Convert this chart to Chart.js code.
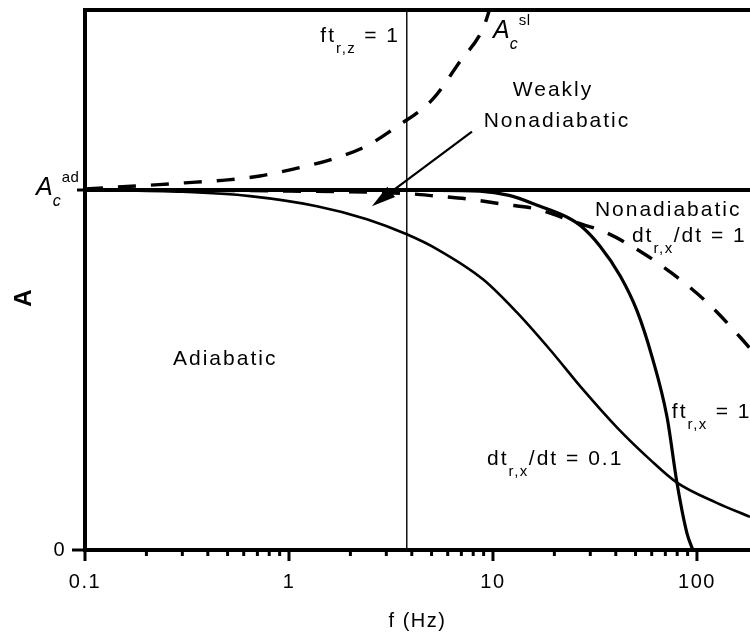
<!DOCTYPE html>
<html>
<head>
<meta charset="utf-8">
<title>Critical amplitude versus frequency</title>
<script src="https://cdn.jsdelivr.net/npm/chart.js@4.4.1/dist/chart.umd.min.js"></script>
<style>
  html, body { margin: 0; padding: 0; background: #fff; }
  canvas { display: block; }
</style>
</head>
<body>
<canvas id="chart" width="750" height="637"></canvas>
<script>
// ---- frequency axis (Hz, logarithmic) ----
const xMajorTicks = [0.1, 1, 10, 100];
const xMinorSteps = [2, 3, 4, 5, 6, 7, 8, 9];
const xLimits = [0.1, 182];

// ---- amplitude axis ----
const yTickValues = [0, 1];
const yTickLabels = ['0', ''];
const yLimits = [0, 1.5];

// adiabatic critical amplitude A_c^ad
const adFreq = [0.1, 182];
const adAmp  = [1, 1];

// A_c^sl
const slFreq = [0.1, 0.23, 0.35, 0.5, 0.72, 1.05, 1.59, 2.36, 3.42, 5.08, 6.89, 8.93, 9.66];
const slAmp  = [1.003, 1.015, 1.022, 1.028, 1.039, 1.058, 1.084, 1.120, 1.178, 1.253, 1.357, 1.448, 1.504];

// dt_r,x/dt = 1
const dt1Freq = [0.1, 1, 3.78, 5.31, 7.53, 11.1, 16.4, 25.2, 35.4, 52.6, 75.3, 112, 163, 182];
const dt1Amp  = [1.0, 0.997, 0.99, 0.983, 0.975, 0.961, 0.947, 0.911, 0.883, 0.830, 0.769, 0.688, 0.591, 0.56];

// ft_r,x = 1
const ftxFreq = [0.1, 1, 5, 8.6, 12, 17, 23, 27, 33.5, 42, 50.8, 60, 71.3, 79.8, 89.3, 95.5];
const ftxAmp  = [1.0, 1.0, 0.999, 0.997, 0.985, 0.955, 0.925, 0.900, 0.844, 0.762, 0.665, 0.54, 0.370, 0.187, 0.047, 0];

// dt_r,x/dt = 0.1
const dt01Freq = [0.1, 0.3, 0.644, 1.37, 2.41, 3.78, 5.31, 8.93, 13.1, 19.0, 27.6, 40.6, 58.9, 79.8, 125, 182];
const dt01Amp  = [1.0, 0.995, 0.983, 0.955, 0.919, 0.877, 0.836, 0.752, 0.660, 0.557, 0.446, 0.340, 0.251, 0.187, 0.131, 0.092];

// ft_r,z = 1 marker line
const ftzFreq = [3.78, 3.78];
const ftzAmp  = [0, 1.5];

// ---- drawing setup ----
const FONT = "'Liberation Sans', Arial, Helvetica, sans-serif";
const SPACING = '2px';

const pts = (xs, ys) => xs.map((x, i) => ({ x, y: ys[i] }));

const xTickValues = [];
xMajorTicks.forEach((m, i) => {
  xTickValues.push(m);
  if (i < xMajorTicks.length - 1) xMinorSteps.forEach(s => xTickValues.push(+(m * s).toPrecision(3)));
});

// text styles for labels with sub/superscripts
const STYLES = {
  n:   { font: `21px ${FONT}`, dy: 0, sp: SPACING },
  sub: { font: `15px ${FONT}`, dy: 11, sp: '1.5px' },
  A:   { font: `italic 25px ${FONT}`, dy: 0, sp: '0px' },
  c:   { font: `italic 16px ${FONT}`, dy: 11, sp: '1px' },
  sup: { font: `15px ${FONT}`, dy: -13, sp: '0.5px' }
};

// region and curve annotations, anchored in (frequency, amplitude)
const notes = [
  { f: 0.27, a: 0.515, align: 'left',   parts: [['Adiabatic']] },
  { f: 19.7, a: 1.262, align: 'center', parts: [['Weakly']] },
  { f: 20.6, a: 1.175, align: 'center', parts: [['Nonadiabatic']] },
  { f: 31.6, a: 0.928, align: 'left',   parts: [['Nonadiabatic']] },
  { f: 48.0, a: 0.855, align: 'left',   parts: [['dt'], ['r,x', 'sub'], ['/dt = 1']] },
  { f: 75.3, a: 0.368, align: 'left',   parts: [['ft'], ['r,x', 'sub'], [' = 1']] },
  { f: 9.35, a: 0.237, align: 'left',   parts: [['dt'], ['r,x', 'sub'], ['/dt = 0.1']] },
  { f: 3.50, a: 1.412, align: 'right',  parts: [['ft'], ['r,z', 'sub'], [' = 1']] },
  { f: 10.0, a: 1.421, align: 'left',   parts: [['A', 'A'], ['c', 'c'], ['sl', 'sup']] }
];

// arrow pointing into the weakly nonadiabatic band
const arrowFrom = { f: 7.89, a: 1.162 };
const arrowTo   = { f: 2.55, a: 0.955 };

function drawRich(ctx, x, y, parts, align) {
  let total = 0;
  const widths = parts.map(([t, s]) => {
    const st = STYLES[s || 'n'];
    ctx.font = st.font;
    ctx.letterSpacing = st.sp;
    const w = ctx.measureText(t).width;
    total += w;
    return w;
  });
  let cx = align === 'center' ? x - total / 2 : align === 'right' ? x - total : x;
  ctx.textAlign = 'left';
  ctx.textBaseline = 'alphabetic';
  parts.forEach(([t, s], i) => {
    const st = STYLES[s || 'n'];
    ctx.font = st.font;
    ctx.letterSpacing = st.sp;
    ctx.fillText(t, cx, y + st.dy);
    cx += widths[i];
  });
}

const decorations = {
  id: 'decorations',
  beforeDraw(chart) {
    chart.ctx.letterSpacing = '1.5px';
  },
  afterDraw(chart) {
    const { ctx, chartArea: area, scales: { x, y } } = chart;
    ctx.save();
    ctx.strokeStyle = '#000';
    ctx.fillStyle = '#000';

    // frame top edge
    ctx.lineWidth = 4;
    ctx.beginPath();
    ctx.moveTo(area.left - 2, area.top);
    ctx.lineTo(area.right, area.top);
    ctx.stroke();

    // x tick marks: long for decades, short for minor steps
    ctx.lineWidth = 3;
    x.ticks.forEach(t => {
      const px = x.getPixelForValue(t.value);
      const len = xMajorTicks.includes(t.value) ? 11 : 6;
      ctx.beginPath();
      ctx.moveTo(px, area.bottom);
      ctx.lineTo(px, area.bottom + len);
      ctx.stroke();
    });
    // y tick marks
    y.ticks.forEach(t => {
      const py = y.getPixelForValue(t.value);
      const len = t.value === 0 ? 13 : 8;
      ctx.beginPath();
      ctx.moveTo(area.left, py);
      ctx.lineTo(area.left - len, py);
      ctx.stroke();
    });

    // A_c^ad label at the adiabatic tick
    drawRich(ctx, 36, y.getPixelForValue(1) + 5, [['A', 'A'], ['c', 'c'], ['ad', 'sup']], 'left');

    // y axis title
    ctx.save();
    ctx.translate(24, y.getPixelForValue(0.70));
    ctx.rotate(-Math.PI / 2);
    ctx.letterSpacing = '0px';
    ctx.font = `bold 24px ${FONT}`;
    ctx.textAlign = 'center';
    ctx.textBaseline = 'middle';
    ctx.fillText('A', 0, 0);
    ctx.restore();

    // annotations
    notes.forEach(n => {
      drawRich(ctx, x.getPixelForValue(n.f), y.getPixelForValue(n.a), n.parts, n.align);
    });

    // arrow
    const x0 = x.getPixelForValue(arrowFrom.f), y0 = y.getPixelForValue(arrowFrom.a);
    const x1 = x.getPixelForValue(arrowTo.f),   y1 = y.getPixelForValue(arrowTo.a);
    const ang = Math.atan2(y1 - y0, x1 - x0);
    const headLen = 24, headHalf = 6.5;
    const bx = x1 - headLen * Math.cos(ang), by = y1 - headLen * Math.sin(ang);
    ctx.lineWidth = 2.2;
    ctx.beginPath();
    ctx.moveTo(x0, y0);
    ctx.lineTo(bx, by);
    ctx.stroke();
    ctx.beginPath();
    ctx.moveTo(x1, y1);
    ctx.lineTo(bx + headHalf * Math.sin(ang), by - headHalf * Math.cos(ang));
    ctx.lineTo(bx - headHalf * Math.sin(ang), by + headHalf * Math.cos(ang));
    ctx.closePath();
    ctx.fill();

    ctx.restore();
  }
};

const curve = (data, width, dash) => ({
  data,
  borderColor: '#000',
  borderWidth: width,
  borderDash: dash || [],
  pointRadius: 0,
  fill: false,
  cubicInterpolationMode: 'monotone'
});

new Chart(document.getElementById('chart'), {
  type: 'line',
  data: {
    datasets: [
      curve(pts(adFreq, adAmp), 4),
      curve(pts(ftxFreq, ftxAmp), 3.2),
      curve(pts(dt01Freq, dt01Amp), 2.6),
      curve(pts(dt1Freq, dt1Amp), 3.4, [18, 15]),
      curve(pts(slFreq, slAmp), 3.4, [18, 15]),
      curve(pts(ftzFreq, ftzAmp), 1.4)
    ]
  },
  options: {
    responsive: false,
    animation: false,
    devicePixelRatio: 1,
    layout: { padding: { top: 10, right: 0, left: 0, bottom: 0 } },
    plugins: { legend: { display: false }, tooltip: { enabled: false } },
    scales: {
      x: {
        type: 'logarithmic',
        position: 'bottom',
        min: xLimits[0],
        max: xLimits[1],
        grid: { display: false, drawTicks: false },
        border: { display: true, color: '#000', width: 4 },
        afterBuildTicks: s => { s.ticks = xTickValues.map(v => ({ value: v, major: xMajorTicks.includes(v) })); },
        afterFit: s => { s.height = 87; s.paddingLeft = 0; s.paddingRight = 0; },
        ticks: {
          autoSkip: false,
          maxRotation: 0,
          padding: 20,
          color: '#000',
          font: { family: FONT, size: 20 },
          callback: v => xMajorTicks.includes(v) ? String(v) : ''
        },
        title: {
          display: true,
          text: 'f (Hz)',
          color: '#000',
          font: { family: FONT, size: 20 },
          padding: { top: 0, bottom: 4 }
        }
      },
      y: {
        min: yLimits[0],
        max: yLimits[1],
        grid: { display: false, drawTicks: false },
        border: { display: true, color: '#000', width: 4 },
        afterBuildTicks: s => { s.ticks = yTickValues.map(v => ({ value: v })); },
        afterFit: s => { s.width = 85; s.paddingTop = 0; s.paddingBottom = 0; },
        ticks: {
          padding: 19,
          color: '#000',
          font: { family: FONT, size: 20 },
          callback: v => yTickLabels[yTickValues.indexOf(v)] ?? ''
        }
      }
    }
  },
  plugins: [decorations]
});
</script>
</body>
</html>
